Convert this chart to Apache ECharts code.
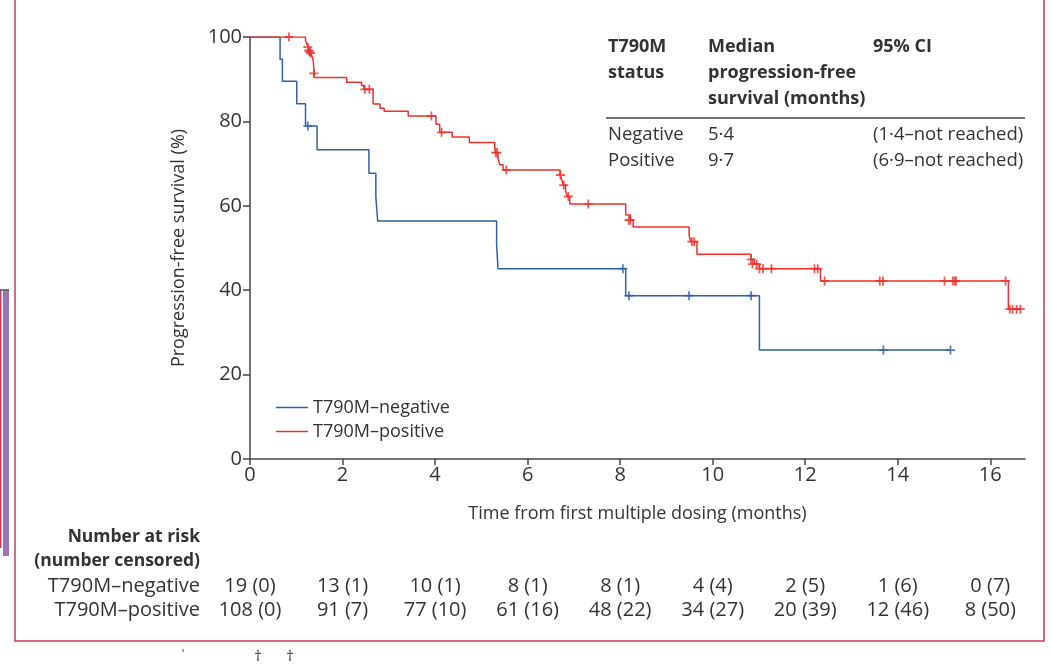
<!DOCTYPE html>
<html>
<head>
<meta charset="utf-8">
<script src="https://cdn.jsdelivr.net/npm/echarts@6/dist/echarts.min.js"></script>
<style>
  html, body { margin: 0; padding: 0; background: #fff; }
  #chart { width: 1051px; height: 665px; }
</style>
</head>
<body>
<div id="chart"></div>
<script>
// Kaplan-Meier steps: [months, survival %], value holds until next step
var negSteps = [[0, 100], [0.65, 94.7], [0.70, 89.5], [1.01, 84.2], [1.20, 78.9], [1.45, 73.3],
  [2.57, 67.7], [2.72, 62.0], [2.76, 56.4], [5.33, 50.8], [5.36, 45.1], [8.12, 38.7],
  [11.01, 25.8], [15.14, 25.8]];
var negCensored = [[1.25, 78.9], [8.06, 45.1], [8.19, 38.7], [9.49, 38.7], [10.83, 38.7],
  [13.69, 25.8], [15.14, 25.8]];

var posSteps = [[0, 100], [1.20, 99.1], [1.24, 98.1], [1.28, 97.2], [1.31, 96.2], [1.35, 95.2],
  [1.37, 94.1], [1.39, 90.4], [2.09, 89.3], [2.41, 88.5], [2.46, 87.6], [2.66, 84.1],
  [2.81, 83.1], [2.90, 82.4], [3.42, 81.3], [4.02, 79.3], [4.10, 77.4], [4.37, 76.3],
  [4.74, 75.0], [5.29, 73.8], [5.31, 72.6], [5.36, 71.3], [5.40, 69.7], [5.47, 68.5],
  [6.70, 67.3], [6.74, 66.1], [6.77, 64.9], [6.82, 63.5], [6.86, 62.2], [6.91, 60.4],
  [8.12, 57.8], [8.22, 56.6], [8.28, 55.0], [9.49, 53.0], [9.53, 51.5], [9.66, 48.5],
  [10.83, 47.3], [10.90, 46.2], [11.01, 45.1], [12.33, 42.2], [16.39, 35.5], [16.67, 35.5]];
var posCensored = [[0.84, 100], [1.25, 97.6], [1.27, 96.8], [1.29, 96.5], [1.31, 96.2],
  [1.38, 91.4], [2.48, 87.6], [2.58, 87.6], [3.92, 81.3], [4.14, 77.4], [5.31, 72.6],
  [5.34, 72.6], [5.54, 68.5], [6.71, 67.3], [6.78, 64.9], [6.88, 62.2], [7.31, 60.4],
  [8.19, 56.6], [8.22, 56.6], [9.55, 51.5], [9.60, 51.5], [10.83, 47.3], [10.86, 46.2],
  [10.95, 46.2], [11.01, 45.1], [11.09, 45.1], [11.27, 45.1], [12.20, 45.1], [12.27, 45.1],
  [12.42, 42.2], [13.61, 42.2], [13.68, 42.2], [15.01, 42.2], [15.19, 42.2], [15.23, 42.2],
  [15.26, 42.2], [16.33, 42.2], [16.42, 35.5], [16.48, 35.5], [16.57, 35.5], [16.65, 35.5]];

var xTicks = [0, 2, 4, 6, 8, 10, 12, 14, 16];
var riskNeg = ['19 (0)', '13 (1)', '10 (1)', '8 (1)', '8 (1)', '4 (4)', '2 (5)', '1 (6)', '0 (7)'];
var riskPos = ['108 (0)', '91 (7)', '77 (10)', '61 (16)', '48 (22)', '34 (27)', '20 (39)', '12 (46)', '8 (50)'];

var tableHead = ['T790M\nstatus', 'Median\nprogression-free\nsurvival (months)', '95% CI'];
var tableRows = [['Negative', '5·4', '(1·4–not reached)'], ['Positive', '9·7', '(6·9–not reached)']];

var FONT = 'Open Sans';
var TXT = '#333';
var BLUE = '#2f5fad';
var RED = '#f0312b';
var plus = 'path://M4,0H6V4H10V6H6V10H4V6H0V4H4Z';

var myChart = echarts.init(document.getElementById('chart'));

myChart.setOption({
  animation: false,
  textStyle: { fontFamily: FONT, color: TXT },
  grid: { left: 250, top: 37, right: 26, bottom: 206 },
  legend: {
    data: ['T790M–negative', 'T790M–positive'],
    orient: 'vertical',
    left: 271, top: 393,
    icon: 'rect', itemWidth: 32, itemHeight: 1.5, itemGap: 5,
    textStyle: { fontFamily: FONT, fontSize: 18, color: TXT, lineHeight: 19 }
  },
  xAxis: {
    type: 'value', min: 0, max: 16.75,
    name: 'Time from first multiple dosing (months)',
    nameLocation: 'middle', nameGap: 46,
    nameTextStyle: { fontFamily: FONT, fontSize: 18, color: TXT },
    axisLine: { lineStyle: { color: '#444', width: 1.5 } },
    axisTick: { length: 6, customValues: xTicks, lineStyle: { color: '#444', width: 1.5 } },
    axisLabel: { customValues: xTicks, fontFamily: FONT, fontSize: 20, color: TXT, margin: 6 },
    splitLine: { show: false }
  },
  yAxis: {
    type: 'value', min: 0, max: 100, interval: 20,
    name: 'Progression-free survival (%)',
    nameLocation: 'middle', nameGap: 62,
    nameTextStyle: { fontFamily: FONT, fontSize: 18, color: TXT },
    axisLine: { show: true, lineStyle: { color: '#444', width: 1.5 } },
    axisTick: { show: true, length: 7, lineStyle: { color: '#444', width: 1.5 } },
    axisLabel: { fontFamily: FONT, fontSize: 20, color: TXT, margin: 8 },
    splitLine: { show: false }
  },
  series: [
    { name: 'T790M–negative', type: 'line', step: 'end', data: negSteps, symbol: 'none',
      lineStyle: { color: BLUE, width: 1.5 }, itemStyle: { color: BLUE }, z: 3 },
    { name: 'T790M–positive', type: 'line', step: 'end', data: posSteps, symbol: 'none',
      lineStyle: { color: RED, width: 1.5 }, itemStyle: { color: RED }, z: 3 },
    { name: 'neg censored', type: 'scatter', data: negCensored, symbol: plus, symbolSize: 9,
      itemStyle: { color: BLUE }, z: 4 },
    { name: 'pos censored', type: 'scatter', data: posCensored, symbol: plus, symbolSize: 9,
      itemStyle: { color: RED }, z: 4 }
  ]
});

// text blocks placed around the plot
var g = [];
function txt(x, y, s, opt) {
  opt = opt || {};
  g.push({
    type: 'text', x: x, y: y, silent: true,
    style: {
      text: s, fill: TXT, fontFamily: FONT,
      fontSize: opt.size || 17, fontWeight: opt.bold ? 'bold' : 'normal',
      align: opt.align || 'left', verticalAlign: opt.va || 'middle',
      lineHeight: opt.lh || 26
    }
  });
}

// median table (top right)
var colX = [608, 708, 873];
tableHead.forEach(function (h, i) { txt(colX[i], 34, h, { bold: true, va: 'top', size: 18 }); });
g.push({ type: 'line', silent: true, shape: { x1: 606, y1: 118, x2: 1025, y2: 118 },
  style: { stroke: '#444', lineWidth: 1.5 } });
tableRows.forEach(function (r, j) {
  r.forEach(function (c, i) { txt(colX[i], 135 + j * 26, c, { size: 18.5 }); });
});

// number at risk table
txt(200, 537, 'Number at risk', { bold: true, align: 'right', size: 17.5 });
txt(200, 561, '(number censored)', { bold: true, align: 'right', size: 17.5 });
txt(200, 586, 'T790M–negative', { align: 'right', size: 20 });
txt(200, 610, 'T790M–positive', { align: 'right', size: 20 });
xTicks.forEach(function (t, i) {
  var px = myChart.convertToPixel({ xAxisIndex: 0 }, t);
  txt(px, 586, riskNeg[i], { align: 'center', size: 20 });
  txt(px, 610, riskPos[i], { align: 'center', size: 20 });
});

// page frame and neighbouring-figure fragments
g.push({ type: 'rect', silent: true, shape: { x: 15, y: -10, width: 1029, height: 651 },
  style: { fill: 'none', stroke: '#cc3a62', lineWidth: 1.5 } });
g.push({ type: 'rect', silent: true, shape: { x: 3, y: 290, width: 6, height: 266 },
  style: { fill: '#9a74b4' } });
g.push({ type: 'rect', silent: true, shape: { x: 0, y: 290, width: 1.5, height: 258 },
  style: { fill: '#cc3a62' } });
g.push({ type: 'line', silent: true, shape: { x1: 0, y1: 290, x2: 9, y2: 290 },
  style: { stroke: '#555', lineWidth: 1.5 } });
txt(258, 657, '†', { size: 15, align: 'center' });
txt(290, 657, '†', { size: 15, align: 'center' });
txt(183, 655, '\'', { size: 12, align: 'center' });

myChart.setOption({ graphic: g });
</script>
</body>
</html>
